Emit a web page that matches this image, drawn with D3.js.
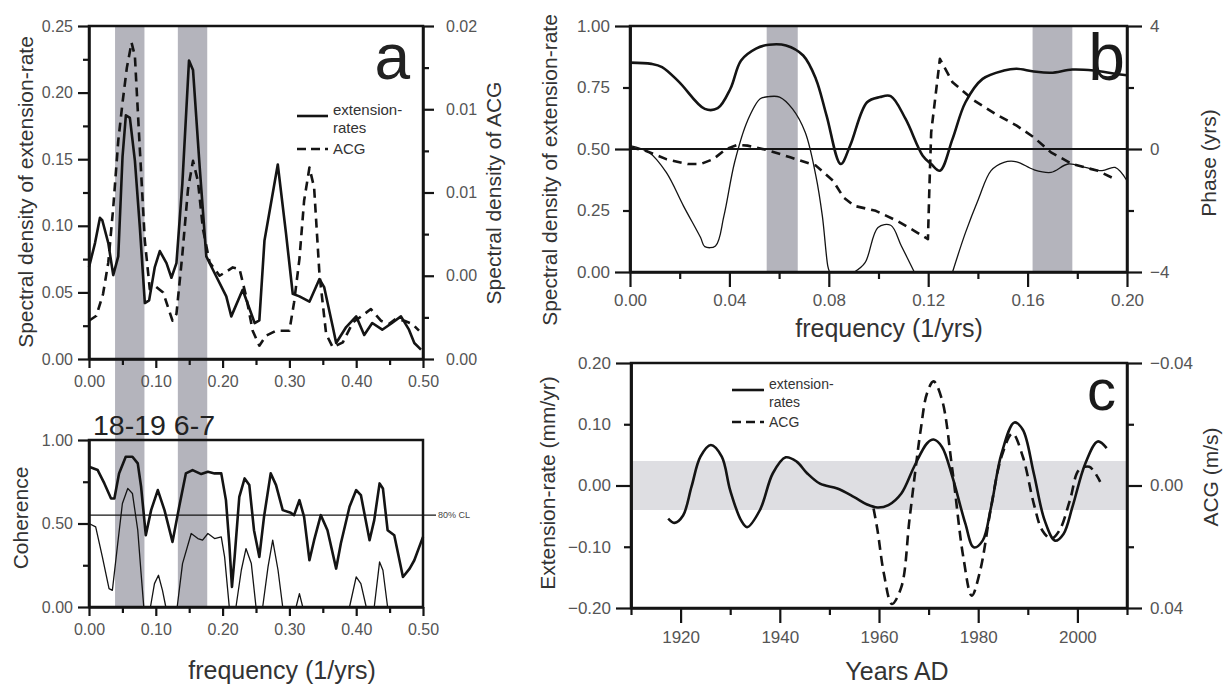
<!DOCTYPE html>
<html>
<head>
<meta charset="utf-8">
<script src="https://cdn.jsdelivr.net/npm/d3@7"></script>
<style>
body { margin: 0; background: #fff; }
svg text { font-family: "Liberation Sans", Arial, sans-serif; }
</style>
</head>
<body>
<svg id="fig" width="1229" height="691"></svg>
<script>
// ---- panel a (top): power spectra, [frequency, density]
const extPower = [[0,.069],[.009,.087],[.0164,.106],[.02,.104],[.0289,.087],[.0363,.063],[.0438,.077],[.0502,.152],[.0552,.183],[.0612,.181],[.0687,.149],[.0761,.099],[.0836,.042],[.09,.044],[.0985,.069],[.106,.081],[.116,.072],[.1234,.061],[.1309,.072],[.1398,.132],[.1497,.224],[.1557,.217],[.1657,.144],[.1756,.077],[.1855,.067],[.2055,.047],[.213,.032],[.23,.052],[.248,.027],[.255,.029],[.2627,.089],[.2826,.146],[.295,.094],[.305,.049],[.315,.047],[.33,.043],[.345,.06],[.352,.054],[.365,.024],[.37,.012],[.385,.024],[.4,.032],[.412,.018],[.424,.027],[.439,.022],[.452,.0265],[.467,.032],[.479,.022],[.487,.012],[.497,.007]];
const acgPower = [[0,.0023],[.011,.0026],[.021,.0039],[.0289,.0058],[.0363,.0091],[.0438,.0131],[.0502,.0154],[.0567,.0175],[.0637,.019],[.0687,.0182],[.0761,.0126],[.0836,.0071],[.091,.0042],[.0985,.0044],[.111,.0040],[.125,.0023],[.1309,.0027],[.1398,.0063],[.1482,.0102],[.1557,.0119],[.163,.0107],[.1706,.0078],[.1806,.0058],[.1955,.005],[.2153,.0055],[.2254,.0054],[.235,.0038],[.245,.0017],[.255,.0008],[.265,.0014],[.28,.0017],[.30,.0017],[.307,.0034],[.315,.006],[.322,.0095],[.33,.0115],[.337,.0103],[.345,.0051],[.355,.0015],[.365,.0007],[.38,.001],[.395,.0022],[.409,.0026],[.422,.003],[.437,.0023],[.449,.0021],[.459,.0024],[.472,.0023],[.484,.0021],[.494,.0017]];
const acgTickVals = [0, .005, .01, .015, .02];
const acgTickLabels = ['0.00', '0.00', '0.01', '0.01', '0.02'];

// ---- panel a (bottom): coherence
const cohA = [[0,.84],[.013,.82],[.023,.74],[.033,.65],[.038,.65],[.045,.80],[.055,.90],[.065,.90],[.073,.86],[.078,.72],[.085,.43],[.093,.58],[.103,.70],[.113,.58],[.125,.39],[.135,.60],[.145,.80],[.155,.82],[.168,.796],[.178,.81],[.188,.80],[.198,.80],[.205,.64],[.21,.38],[.214,.12],[.218,.30],[.225,.66],[.233,.77],[.24,.73],[.247,.46],[.255,.30],[.262,.54],[.272,.80],[.28,.73],[.29,.58],[.302,.564],[.307,.55],[.315,.64],[.322,.54],[.33,.28],[.337,.40],[.347,.55],[.357,.46],[.37,.23],[.377,.38],[.39,.60],[.40,.70],[.407,.67],[.42,.40],[.427,.52],[.435,.74],[.44,.71],[.447,.46],[.457,.43],[.47,.18],[.48,.23],[.487,.28],[.5,.42]];
const cohALow = [[0,.50],[.01,.48],[.02,.30],[.03,.11],[.035,.10],[.043,.38],[.05,.62],[.058,.71],[.065,.68],[.073,.46],[.078,.20],[.082,0],[.087,null],[.092,0],[.098,.14],[.104,.19],[.11,.10],[.115,0],[.12,null],[.132,0],[.14,.26],[.153,.44],[.163,.41],[.17,.40],[.178,.44],[.188,.41],[.198,.42],[.203,.30],[.21,0],[.215,null],[.22,0],[.228,.22],[.235,.35],[.243,.26],[.25,0],[.255,null],[.26,0],[.268,.24],[.275,.40],[.283,.22],[.29,0],[.30,null],[.31,0],[.315,.08],[.32,0],[.35,null],[.39,0],[.40,.18],[.407,.14],[.415,0],[.42,null],[.427,0],[.435,.27],[.44,.22],[.447,0]];
const clLevel = 0.55;
const bandsA = [[.039, .083], [.133, .177]];

// ---- panel b: coherence and phase, frequency 0-0.2
const cohB = [[0,.851],[.0086,.846],[.0129,.833],[.0198,.772],[.0301,.663],[.0353,.666],[.0404,.745],[.0447,.86],[.0507,.908],[.0559,.924],[.0628,.921],[.0697,.88],[.0748,.785],[.0791,.636],[.0848,.439],[.0886,.514],[.0954,.69],[.1006,.711],[.1049,.715],[.1109,.622],[.1178,.473],[.1212,.439],[.1247,.412],[.1298,.541],[.135,.69],[.1419,.785],[.1505,.819],[.1556,.826],[.1625,.815],[.1694,.81],[.178,.823],[.1866,.819],[.1952,.806],[.2,.8]];
const cohBLow = [[0,.514],[.0077,.486],[.0146,.405],[.0215,.269],[.0284,.14],[.0301,.103],[.0344,.106],[.0378,.228],[.0421,.446],[.0473,.615],[.0524,.704],[.0559,.713],[.0602,.711],[.0654,.663],[.0705,.568],[.0748,.391],[.0774,.228],[.0796,.024],[.0803,0],[.085,null],[.0903,0],[.0946,.038],[.0998,.181],[.1049,.19],[.1092,.106],[.1144,0],[.12,null],[.1298,0],[.135,.16],[.1402,.296],[.1453,.412],[.1505,.446],[.1556,.448],[.1625,.416],[.1694,.405],[.1763,.439],[.1832,.425],[.19,.412],[.1952,.425],[.2,.371]];
const phaseB = [[0,.05],[.006,-.05],[.0146,-.33],[.0232,-.49],[.0284,-.49],[.0335,-.33],[.0387,0],[.043,.13],[.0473,.11],[.0559,-.05],[.0645,-.27],[.0748,-.54],[.0817,-1.03],[.086,-1.58],[.0903,-1.85],[.0989,-2.01],[.1075,-2.34],[.1144,-2.66],[.1199,-2.93],[.1205,-1.2],[.1212,.54],[.1247,2.93],[.1298,2.17],[.1384,1.58],[.147,1.14],[.1556,.76],[.1625,.38],[.1694,-.11],[.178,-.49],[.1883,-.71],[.1952,-.98]];
const bandsB = [[.055, .0675], [.162, .178]];

// ---- panel c: filtered series, [year, value]
const extSeries = [[1917.5,-.054],[1918.8,-.061],[1920.5,-.049],[1922.2,-.002],[1924,.047],[1926.1,.066],[1928.3,.047],[1930,-.008],[1932.2,-.057],[1933.4,-.068],[1936,-.04],[1938.6,.02],[1941.2,.046],[1943.4,.039],[1945.5,.02],[1948.1,.003],[1951.6,-.005],[1955,-.019],[1957.6,-.031],[1959.7,-.036],[1961.9,-.032],[1964.5,-.013],[1967.1,.031],[1969.7,.069],[1971,.075],[1972.7,.063],[1974.8,.014],[1977.4,-.062],[1979.1,-.101],[1980.9,-.09],[1982.6,-.035],[1984.7,.052],[1987.3,.103],[1989,.091],[1991.2,.02],[1993.4,-.057],[1995.5,-.09],[1997.2,-.079],[1999,-.035],[2001.6,.036],[2004.1,.072],[2005.9,.061]];
const acgSeries = [[1958.9,.0075],[1959.7,.0146],[1961,.0289],[1962.6,.0387],[1964.5,.0332],[1966.2,.0103],[1968.4,-.0181],[1969.7,-.0302],[1971,-.034],[1972.7,-.028],[1974.8,-.005],[1977,.0234],[1978.7,.036],[1980.4,.0278],[1982.6,.007],[1984.7,-.0094],[1986.9,-.017],[1989,-.0094],[1991.2,.0059],[1992.9,.0146],[1994.7,.0174],[1996.4,.0146],[1998.5,.0048],[2000.3,-.005],[2002.4,-.0061],[2004.6,-.0012]];
const noiseBand = [-0.04, 0.04];

const svg = d3.select('#fig');
const ink = '#141414';
const band = '#b4b4bc';

// scales
const xA = d3.scaleLinear([0, .5], [89, 423]);
const yA = d3.scaleLinear([0, .25], [359, 26]);
const yAr = d3.scaleLinear([0, .02], [359, 26]);
const yA2 = d3.scaleLinear([0, 1], [607, 440]);
const xB = d3.scaleLinear([0, .2], [630, 1127]);
const yB = d3.scaleLinear([0, 1], [272, 26]);
const yBr = d3.scaleLinear([-4, 4], [272, 26]);
const xC = d3.scaleLinear([1910, 2010], [631, 1127]);
const yC = d3.scaleLinear([-.2, .2], [608, 363]);
const yCr = d3.scaleLinear([-.04, .04], [363, 608]);

function axis(gen, scale, tr, major, minor, o) {
    const g = svg.append('g').attr('transform', tr);
    if (minor.length) {
        g.append('g')
            .call(gen(scale).tickValues(minor).tickSize(o.minor || 6).tickSizeOuter(0).tickFormat(''))
            .call(s => s.select('.domain').remove())
            .selectAll('line').attr('stroke', ink).attr('stroke-width', 2.2);
    }
    const ax = g.append('g')
        .call(gen(scale).tickValues(major).tickSize(o.major || 11).tickSizeOuter(0)
            .tickPadding(o.pad || 5).tickFormat(o.fmt || d3.format('.2f')));
    ax.select('.domain').attr('stroke', ink).attr('stroke-width', 2.5);
    ax.selectAll('.tick line').attr('stroke', ink).attr('stroke-width', 2.2);
    ax.selectAll('.tick text').attr('font-size', o.fs || 16).attr('fill', '#555')
        .style('font-family', '"Liberation Sans", Arial, sans-serif');
}

function frame(x0, x1, y0, y1) {
    svg.append('rect').attr('x', x0).attr('y', y0).attr('width', x1 - x0).attr('height', y1 - y0)
        .attr('fill', 'none').attr('stroke', ink).attr('stroke-width', 2.5);
}

function title(txt, x, y, size, rot) {
    svg.append('text').attr('x', x).attr('y', y)
        .attr('transform', rot ? `rotate(-90,${x},${y})` : null)
        .attr('text-anchor', 'middle').attr('dominant-baseline', rot ? 'central' : null)
        .attr('font-size', size).attr('fill', '#333').text(txt);
}

function path(data, line, width, dash) {
    svg.append('path').datum(data).attr('d', line)
        .attr('fill', 'none').attr('stroke', ink).attr('stroke-width', width)
        .attr('stroke-dasharray', dash || null).attr('stroke-linejoin', 'round');
}

function legend(x0, x1, entries, fs) {
    entries.forEach(l => {
        svg.append('line').attr('x1', x0).attr('x2', x1).attr('y1', l.y).attr('y2', l.y)
            .attr('stroke', ink).attr('stroke-width', 2.6).attr('stroke-dasharray', l.dash);
        l.lines.forEach((t, i) => {
            svg.append('text').attr('x', x1 + 5).attr('y', l.ty + i * 18).attr('font-size', fs)
                .attr('fill', '#333').text(t);
        });
    });
}

// ================= panel a =================
svg.selectAll('.bandA').data(bandsA).enter().append('rect')
    .attr('x', d => xA(d[0])).attr('width', d => xA(d[1]) - xA(d[0]))
    .attr('y', 26).attr('height', 607 - 26).attr('fill', band);

const lineA = d3.line().x(d => xA(d[0])).y(d => yA(d[1]));
const lineAr = d3.line().x(d => xA(d[0])).y(d => yAr(d[1]));
path(extPower, lineA, 2.6);
path(acgPower, lineAr, 2.6, '9,6');

frame(89, 423, 26, 359);
axis(d3.axisLeft, yA, 'translate(89,0)', d3.range(0, .26, .05), d3.range(.025, .25, .05), {});
axis(d3.axisRight, yAr, 'translate(423,0)', acgTickVals, [.0025, .0075, .0125, .0175],
    { pad: 12, fmt: (d, i) => acgTickLabels[i] });
axis(d3.axisBottom, xA, 'translate(0,359)', d3.range(0, .51, .1), d3.range(.05, .5, .1), { major: 9, pad: 8 });

svg.append('text').attr('x', 410).attr('y', 79).attr('text-anchor', 'end')
    .attr('font-size', 64).attr('fill', '#222').text('a');

legend(297, 328, [
    { y: 116, ty: 115, dash: null, lines: ['extension-', 'rates'] },
    { y: 149, ty: 154, dash: '9,5', lines: ['ACG'] }
], 15);
title('Spectral density of extension-rate', 25, 192, 21, true);
title('Spectral density of ACG', 493, 193, 21, true);

// coherence
const lineA2 = d3.line().defined(d => d[1] !== null).x(d => xA(d[0])).y(d => yA2(d[1]));
path(cohA, lineA2, 2.6);
path(cohALow, lineA2, 1.3);
svg.append('line').attr('x1', 89).attr('x2', 436).attr('y1', yA2(clLevel)).attr('y2', yA2(clLevel))
    .attr('stroke', ink).attr('stroke-width', 1.2);
svg.append('text').attr('x', 438).attr('y', yA2(clLevel) + 3).attr('font-size', 9).attr('fill', '#444').text('80% CL');

frame(89, 423, 440, 607);
axis(d3.axisLeft, yA2, 'translate(89,0)', [0, .5, 1], [.25, .75], {});
axis(d3.axisBottom, xA, 'translate(0,607)', d3.range(0, .51, .1), d3.range(.05, .5, .1), { major: 9, pad: 8 });
svg.append('text').attr('x', 93).attr('y', 435).attr('font-size', 28.5).attr('fill', '#222').text('18-19 6-7');
title('Coherence', 20, 518, 21, true);
title('frequency (1/yrs)', 282, 679, 25, false);

// ================= panel b =================
svg.selectAll('.bandB').data(bandsB).enter().append('rect')
    .attr('x', d => xB(d[0])).attr('width', d => xB(d[1]) - xB(d[0]))
    .attr('y', 26).attr('height', 272 - 26).attr('fill', band);
svg.append('line').attr('x1', 630).attr('x2', 1127).attr('y1', yB(.5)).attr('y2', yB(.5))
    .attr('stroke', ink).attr('stroke-width', 2.2);

const lineB = d3.line().defined(d => d[1] !== null).curve(d3.curveCatmullRom)
    .x(d => xB(d[0])).y(d => yB(d[1]));
const lineBr = d3.line().x(d => xB(d[0])).y(d => yBr(d[1]));
path(cohB, lineB, 2.6);
path(cohBLow, lineB, 1.3);
path(phaseB, lineBr, 2.6, '9,6');

frame(630, 1127, 26, 272);
axis(d3.axisLeft, yB, 'translate(630,0)', [0, .5, 1], [], { major: 15, fs: 17 });
axis(d3.axisLeft, yB, 'translate(630,0)', [.25, .75], [], { major: 7, pad: 13, fs: 17 });
axis(d3.axisRight, yBr, 'translate(1127,0)', [-4, 0, 4], [-2, 2], { major: 15, minor: 7, pad: 8, fs: 17, fmt: d3.format('d') });
axis(d3.axisBottom, xB, 'translate(0,272)', d3.range(0, .21, .04), d3.range(.02, .2, .04), { major: 15, minor: 7, pad: 7, fs: 17 });

svg.append('text').attr('x', 1125).attr('y', 80).attr('text-anchor', 'end')
    .attr('font-size', 66).attr('fill', '#1a1a1a').text('b');
title('Spectral density of extension-rate', 549, 170, 21, true);
title('Phase (yrs)', 1208, 163, 21, true);
title('frequency (1/yrs)', 889, 337, 25, false);

// ================= panel c =================
svg.append('rect').attr('x', 631).attr('width', 1127 - 631)
    .attr('y', yC(noiseBand[1])).attr('height', yC(noiseBand[0]) - yC(noiseBand[1])).attr('fill', '#dedee2');

const lineC = d3.line().curve(d3.curveCatmullRom).x(d => xC(d[0])).y(d => yC(d[1]));
const lineCr = d3.line().curve(d3.curveCatmullRom).x(d => xC(d[0])).y(d => yCr(d[1]));
path(extSeries, lineC, 2.6);
path(acgSeries, lineCr, 2.6, '10,6');

frame(631, 1127, 363, 608);
axis(d3.axisLeft, yC, 'translate(631,0)', [-.2, 0, .2], [], { major: 15, fs: 17 });
axis(d3.axisLeft, yC, 'translate(631,0)', [-.1, .1], [], { major: 7, pad: 13, fs: 17 });
axis(d3.axisRight, yCr, 'translate(1127,0)', [-.04, 0, .04], [-.02, .02], { major: 15, minor: 7, pad: 8, fs: 17 });
axis(d3.axisBottom, xC, 'translate(0,608)', d3.range(1920, 2001, 20), d3.range(1910, 2011, 20), { major: 15, minor: 7, pad: 8, fs: 17, fmt: d3.format('d') });

svg.append('text').attr('x', 1116).attr('y', 410).attr('text-anchor', 'end')
    .attr('font-size', 58).attr('fill', '#1a1a1a').text('c');
legend(732, 764, [
    { y: 390, ty: 389, dash: null, lines: ['extension-', 'rates'] },
    { y: 422, ty: 427, dash: '9,5', lines: ['ACG'] }
], 14);
title('Extension-rate (mm/yr)', 547, 483, 21, true);
title('ACG (m/s)', 1210, 477, 21, true);
title('Years AD', 897, 680, 25, false);
</script>
</body>
</html>
